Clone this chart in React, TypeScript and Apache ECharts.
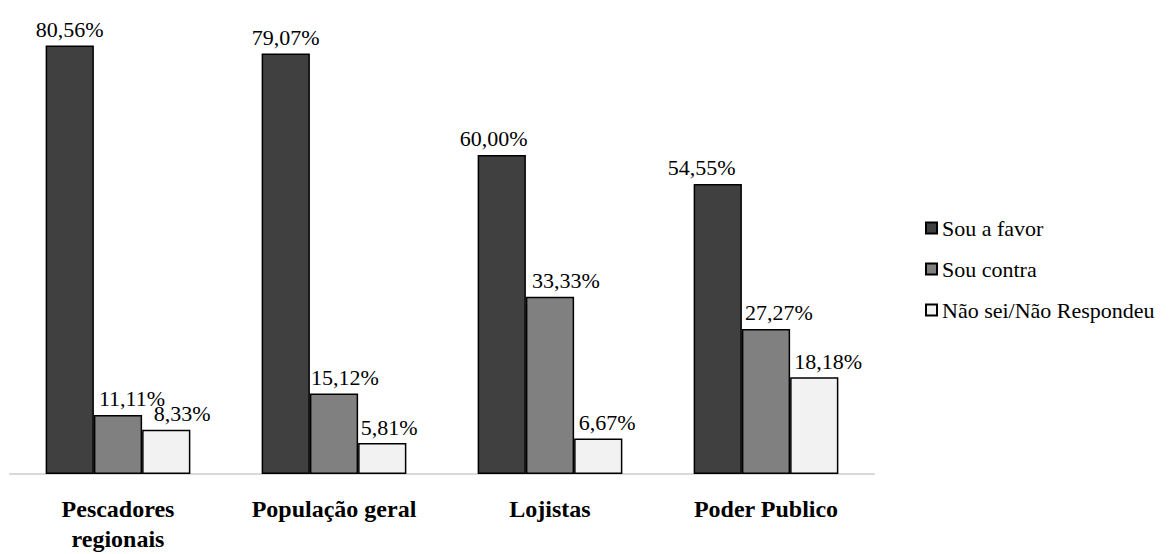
import React, { useEffect, useRef } from "react";
import * as echarts from "echarts";

const categories = ["Pescadores\nregionais", "População geral", "Lojistas", "Poder Publico"];
const seriesNames = ["Sou a favor", "Sou contra", "Não sei/Não Respondeu"];
const favor = [80.56, 79.07, 60.0, 54.55];
const contra = [11.11, 15.12, 33.33, 27.27];
const naoSei = [8.33, 5.81, 6.67, 18.18];
const colors = ["#404040", "#808080", "#f2f2f2"];
// horizontal nudges of the value labels, as in the original
const labelShift = [
  [0, 0, -8, -16],
  [14, 11, 16, 13],
  [16, 7, 9, 14],
];

const SERIF = "Times New Roman, Liberation Serif, serif";

export default function App() {
  const ref = useRef<HTMLDivElement>(null);
  useEffect(() => {
    document.body.style.margin = "0";
    if (!ref.current) return;
    const chart = echarts.init(ref.current, undefined, { renderer: "svg" });
    const all = [favor, contra, naoSei];
    chart.setOption({
      animation: false,
      backgroundColor: "#ffffff",
      textStyle: { fontFamily: SERIF },
      grid: { left: 10, right: 1169 - 874, top: 22, bottom: 77 },
      legend: {
        orient: "vertical",
        left: 920,
        top: 212,
        itemWidth: 11,
        itemHeight: 11,
        itemGap: 19,
        icon: "rect",
        textStyle: { fontFamily: SERIF, fontSize: 22, color: "#000" },
        data: seriesNames,
      },
      xAxis: {
        type: "category",
        data: categories,
        axisLine: { lineStyle: { color: "#d9d9d9", width: 2 } },
        axisTick: { show: false },
        axisLabel: {
          fontFamily: SERIF,
          fontWeight: "bold",
          fontSize: 24,
          color: "#000",
          margin: 20,
          lineHeight: 30,
          interval: 0,
        },
      },
      yAxis: {
        type: "value",
        min: 0,
        max: 85,
        show: false,
        splitLine: { show: false },
      },
      series: all.map((vals, si) => ({
        name: seriesNames[si],
        type: "bar",
        barGap: "0%",
        barCategoryGap: "33%",
        itemStyle: { color: colors[si], borderColor: "#000", borderWidth: 1.5 },
        label: {
          show: true,
          position: "top",
          distance: 5,
          fontFamily: SERIF,
          fontSize: 22,
          color: "#000",
          formatter: (p: any) => p.value.toFixed(2).replace(".", ",") + "%",
        },
        data: vals.map((v, ci) => ({
          value: v,
          label: { offset: [labelShift[si][ci], 0] },
        })),
      })),
    });
    return () => chart.dispose();
  }, []);
  return <div ref={ref} style={{ width: 1169, height: 554 }} />;
}
